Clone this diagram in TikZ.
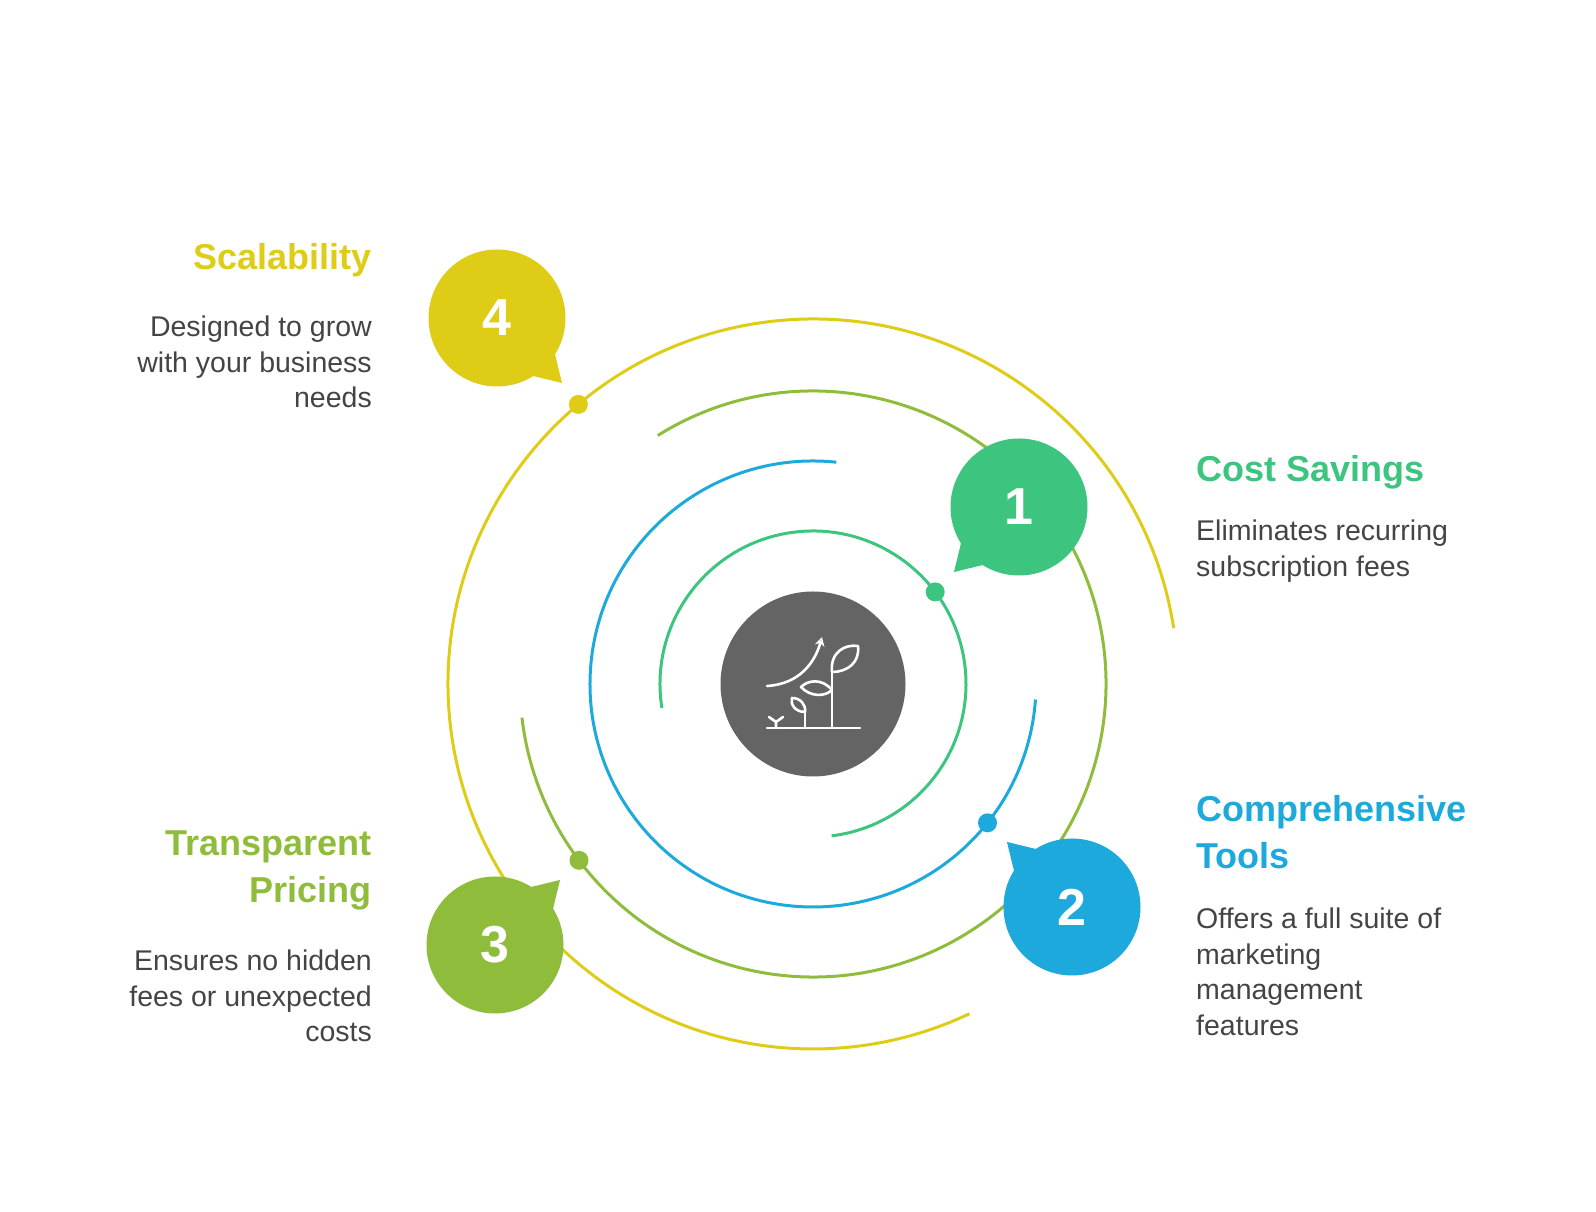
\documentclass[tikz,border=0pt]{standalone}
\usepackage{fontspec}
\setmainfont{Liberation Sans}
\usetikzlibrary{arrows.meta,calc}
\definecolor{cg}{HTML}{3DC47E}
\definecolor{cb}{HTML}{1EA9DC}
\definecolor{co}{HTML}{8FBC3A}
\definecolor{cy}{HTML}{DFCC17}
\definecolor{cgray}{HTML}{646464}
\definecolor{ctxt}{HTML}{444444}
\tikzset{
 ring/.style={line width=3pt},
 dotm/.style={circle,inner sep=0pt,minimum size=19pt},
 bub/.style={circle,inner sep=0pt,minimum size=137pt},
 ttl/.style={font=\fontsize{36}{47}\selectfont\bfseries,inner sep=0pt},
 bodyr/.style={font=\fontsize{28.5}{35.5}\selectfont,text=ctxt,align=right,inner sep=0pt},
 bodyl/.style={font=\fontsize{28.5}{35.5}\selectfont,text=ctxt,align=left,inner sep=0pt},
 num/.style={font=\fontsize{52}{52}\selectfont\bfseries,text=white},
 icon/.style={white,line width=2.6pt,line cap=round,line join=round}
}
\newcommand{\mybubble}[5]{%
 \fill[#4] ($(#1)+(#3-17:64)$) -- ($(#1)+(#3:92)$) -- ($(#1)+(#3+17:64)$) -- cycle;
 \node[bub,fill=#4,num] (#2) at (#1) {#5};}
\begin{document}
\begin{tikzpicture}[x=1pt,y=1pt]
\useasboundingbox (0,0) rectangle (1596,1212);
\coordinate (c) at (813,528);
% rings
\draw[ring,cg] (c) ++(189:153) arc[start angle=189,end angle=-83,radius=153];
\draw[ring,cb] (c) ++(84:223) arc[start angle=84,end angle=356,radius=223];
\draw[ring,co] (c) ++(122:293) arc[start angle=122,end angle=-173.4,radius=293];
\draw[ring,cy] (c) ++(8.8:365) arc[start angle=8.8,end angle=295.4,radius=365];
% dots
\node[dotm,fill=cg] (d1) at ($(c)+(37:153)$) {};
\node[dotm,fill=cb] (d2) at ($(c)+(-38.5:223)$) {};
\node[dotm,fill=co] (d3) at ($(c)+(217:293)$) {};
\node[dotm,fill=cy] (d4) at ($(c)+(130:365)$) {};
% bubbles
\coordinate (p1) at (1019,705);
\coordinate (p2) at (1072,305);
\coordinate (p3) at (495,267);
\coordinate (p4) at (497,894);
\mybubble{p1}{b1}{225}{cg}{1}
\mybubble{p2}{b2}{135}{cb}{2}
\mybubble{p3}{b3}{45}{co}{3}
\mybubble{p4}{b4}{-45}{cy}{4}
% center
\node[circle,fill=cgray,minimum size=185pt,inner sep=0pt] (ctr) at (c) {};
\draw[icon] (767,484) -- (860,484);
\draw[icon] (832,484) -- (832,540);
\draw[icon] (832,540) .. controls (830,560) and (845,568) .. (858,566) .. controls (860,550) and (848,540) .. (832,540);
\draw[icon] (832,522) .. controls (822,534) and (808,532) .. (801,525) .. controls (810,515) and (825,515) .. (832,522);
\draw[icon] (805,484) -- (805,500);
\draw[icon] (805,500) .. controls (795,500) and (790,508) .. (792,514) .. controls (800,514) and (806,508) .. (805,500);
\draw[icon] (776,484) -- (776,490) (776,490) -- (769,495) (776,490) -- (783,495);
\draw[icon,-{Stealth[length=9pt,width=10pt,open]}] (767,526) .. controls (800,528) and (815,550) .. (822,575);
% texts
\node[ttl,text=cy,anchor=east] (t4) at (372,952) {Scalability};
\node[bodyr,anchor=north east] (s4) at (372,896) {Designed to grow\\with your business\\needs};
\node[ttl,text=cg,anchor=west] (t1) at (1196,740) {Cost Savings};
\node[bodyl,anchor=north west] (s1) at (1196,692) {Eliminates recurring\\subscription fees};
\node[ttl,text=cb,anchor=north west,align=left] (t2) at (1196,417) {Comprehensive\\Tools};
\node[bodyl,anchor=north west] (s2) at (1196,304) {Offers a full suite of\\marketing\\management\\features};
\node[ttl,text=co,anchor=north east,align=right] (t3) at (372,381) {Transparent\\Pricing};
\node[bodyr,anchor=north east] (s3) at (372,262) {Ensures no hidden\\fees or unexpected\\costs};
\end{tikzpicture}
\end{document}
